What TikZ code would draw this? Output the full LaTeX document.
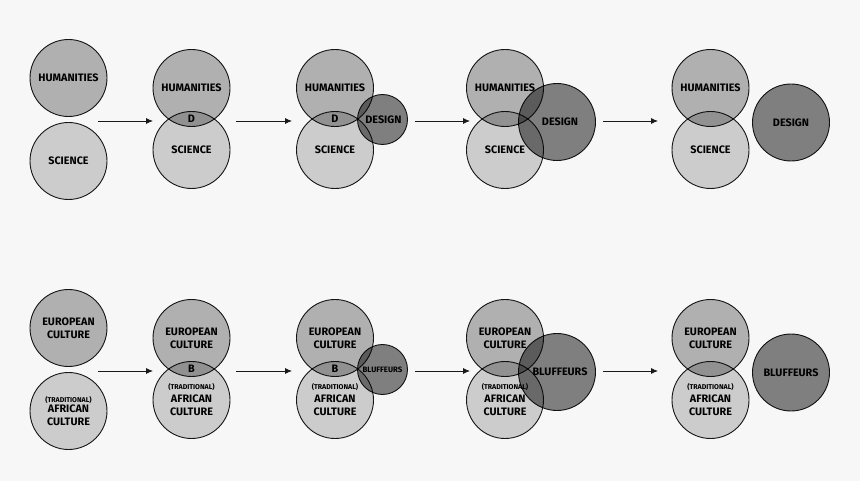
\documentclass[tikz,border=0pt]{standalone}
\usepackage{fontspec}
\setmainfont{Fira Sans}
\usepackage{tikz}
\usetikzlibrary{positioning}
\usetikzlibrary{arrows.meta}

\definecolor{bgcol}{RGB}{247,247,247}
\definecolor{humcol}{RGB}{182,182,182}
\definecolor{scicol}{RGB}{211,211,211}
\definecolor{descol}{RGB}{132,132,132}

\newcommand{\lbl}{\fontsize{10.8}{13}\selectfont\bfseries}
\newcommand{\tradlbl}{\fontsize{7}{8}\selectfont\bfseries}

\begin{document}
\begin{tikzpicture}[x=1pt, y=-1pt,
                bignode/.style={circle, draw=black!90, line width=0.9pt, minimum size=77pt, inner sep=0pt, align=center, font=\lbl, blend mode=multiply},
                humnode/.style={bignode, fill=humcol},
                scinode/.style={bignode, fill=scicol},
                designnode/.style={bignode, fill=descol},
                smalldesignnode/.style={bignode, fill=descol, minimum size=50pt},
                textnode/.style={inner sep=0pt, align=center, font=\lbl},
                arrowline/.style={-{Latex[length=7pt, width=6pt]}, line width=0.8pt, black!90},
            ]
            \fill[bgcol] (0,0) rectangle (860,481);
            \useasboundingbox (0,0) rectangle (860,481);

            % Top row
            \node[humnode]          (hum_1)     at (68.5,78)        {HUMANITIES};
            \node[scinode]          (sci_1)     at (68.5,161)       {SCIENCE};

            \node[humnode]          (hum_2)     at (191.5,88)       {\raisebox{1pt}{HUMANITIES}};
            \node[scinode]          (sci_2)     at (191.5,150)      {SCIENCE};
            \node[textnode]         (d_2)       at (191.5,119)      {D};

            \node[humnode]          (hum_3)     at (335,88)         {\raisebox{1pt}{HUMANITIES}};
            \node[scinode]          (sci_3)     at (335,150)        {SCIENCE};
            \node[smalldesignnode]  (des_3)     at (382.5,119.5)    {\hspace*{2pt}DESIGN};
            \node[textnode]         (d_3)       at (335,119)        {D};

            \node[humnode]          (hum_4)     at (505,88)         {\raisebox{1pt}{HUMANITIES}};
            \node[scinode]          (sci_4)     at (505,150)        {SCIENCE};
            \node[designnode]       (des_4)     at (557,122)        {\hspace*{6pt}DESIGN};

            \node[humnode]          (hum_5)     at (710.5,88)       {\raisebox{1pt}{HUMANITIES}};
            \node[scinode]          (sci_5)     at (710.5,150)      {SCIENCE};
            \node[designnode]       (des_5)     at (791,122.5)      {DESIGN};

            % Bottom row
            \node[humnode]          (eur_1)     at (68.5,328)       {EUROPEAN\\CULTURE};
            \node[scinode]          (afr_1)     at (68.5,411)       {\raisebox{-3pt}{\tradlbl (TRADITIONAL)}\\AFRICAN\\CULTURE};

            \node[humnode]          (eur_2)     at (191.5,338)      {EUROPEAN\\CULTURE};
            \node[scinode]          (afr_2)     at (191.5,400)      {\tradlbl (TRADITIONAL)\\AFRICAN\\CULTURE};
            \node[textnode]         (b_2)       at (191.5,369)      {B};

            \node[humnode]          (eur_3)     at (335,338)        {EUROPEAN\\CULTURE};
            \node[scinode]          (afr_3)     at (335,400)        {\tradlbl (TRADITIONAL)\\AFRICAN\\CULTURE};
            \node[smalldesignnode, font=\fontsize{7.8}{8}\selectfont\bfseries]
                                    (bluf_3)    at (382.5,369.5)    {BLUFFEURS};
            \node[textnode]         (b_3)       at (335,369)        {B};

            \node[humnode]          (eur_4)     at (505,338)        {EUROPEAN\\CULTURE};
            \node[scinode]          (afr_4)     at (505,400)        {\tradlbl (TRADITIONAL)\\AFRICAN\\CULTURE};
            \node[designnode]       (bluf_4)    at (557,372)        {\hspace*{6pt}BLUFFEURS};

            \node[humnode]          (eur_5)     at (710.5,338)      {EUROPEAN\\CULTURE};
            \node[scinode]          (afr_5)     at (710.5,400)      {\tradlbl (TRADITIONAL)\\AFRICAN\\CULTURE};
            \node[designnode]       (bluf_5)    at (791,372.5)      {BLUFFEURS};

            % Arrow ends
            \coordinate (top_a1) at (98,121);   \coordinate (top_b1) at (153,121);
            \coordinate (top_a2) at (236,121);  \coordinate (top_b2) at (292,121);
            \coordinate (top_a3) at (415,121);  \coordinate (top_b3) at (470,121);
            \coordinate (top_a4) at (603,121);  \coordinate (top_b4) at (658,121);
            \coordinate (bot_a1) at (98,371);   \coordinate (bot_b1) at (153,371);
            \coordinate (bot_a2) at (236,371);  \coordinate (bot_b2) at (292,371);
            \coordinate (bot_a3) at (415,371);  \coordinate (bot_b3) at (470,371);
            \coordinate (bot_a4) at (603,371);  \coordinate (bot_b4) at (658,371);

            %Lines
            \draw[arrowline] (top_a1) -- (top_b1);
            \draw[arrowline] (top_a2) -- (top_b2);
            \draw[arrowline] (top_a3) -- (top_b3);
            \draw[arrowline] (top_a4) -- (top_b4);

            \draw[arrowline] (bot_a1) -- (bot_b1);
            \draw[arrowline] (bot_a2) -- (bot_b2);
            \draw[arrowline] (bot_a3) -- (bot_b3);
            \draw[arrowline] (bot_a4) -- (bot_b4);
        \end{tikzpicture}
\end{document}
